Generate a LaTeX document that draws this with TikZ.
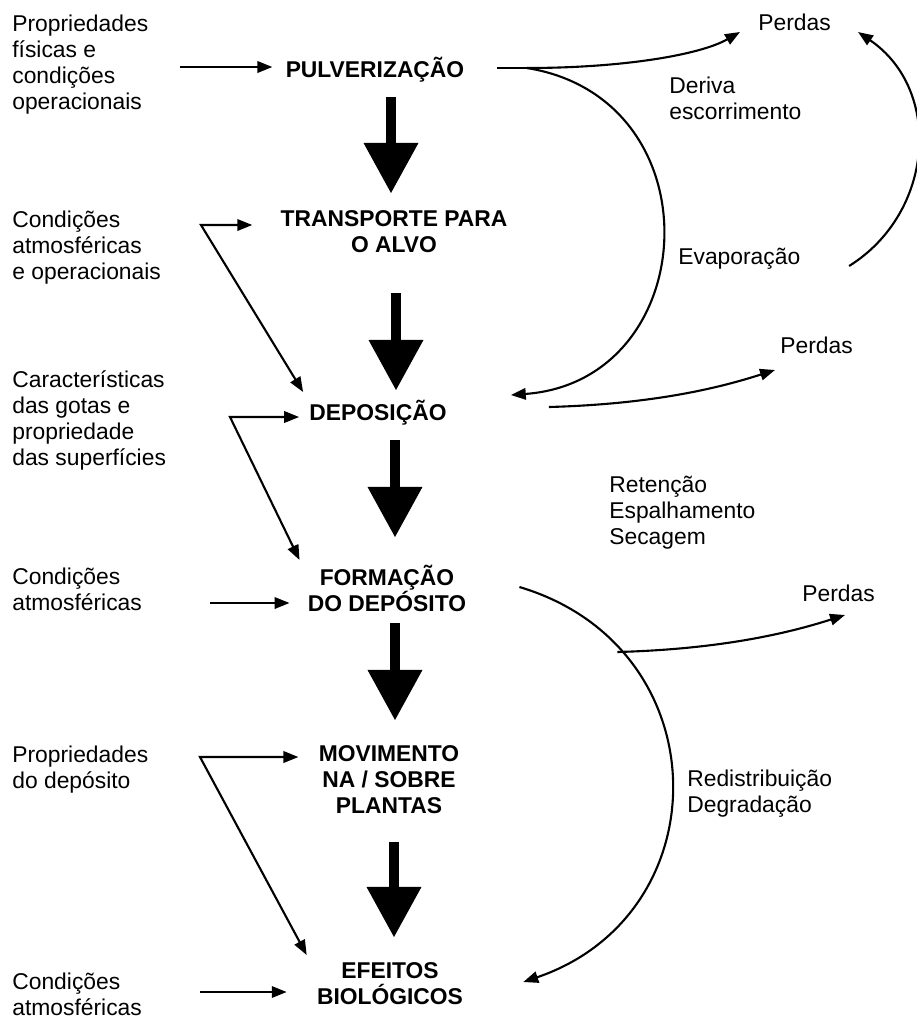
\documentclass[tikz,border=0pt]{standalone}
\usepackage{fontspec}
\setmainfont{Liberation Sans}
\usetikzlibrary{arrows.meta, calc}

\begin{document}
\begin{tikzpicture}[
  x=0.02cm, y=-0.02cm,
  every node/.style={inner sep=0pt, font=\fontsize{13}{14.8}\selectfont},
  stage/.style={align=center, font=\fontsize{13}{14.8}\selectfont\bfseries},
  cause/.style={anchor=west, align=left},
  note/.style={anchor=west, align=left},
  feed/.style={line width=1.2pt, -{Triangle[length=8.5pt, width=6.5pt]}},
  feedtwo/.style={line width=1.2pt, {Triangle[length=8.5pt, width=6.5pt]}-{Triangle[length=8.5pt, width=6.5pt]}},
  flow/.style={line width=5.7pt, -{Triangle[length=28.5pt, width=31.3pt, line width=0pt]}}
]
\useasboundingbox (0,0) rectangle (917,1019);

% stages
\node[stage] (pulv) at (375,70) {PULVERIZAÇÃO};
\node[stage] (trans) at (394,231.5) {TRANSPORTE PARA\\O ALVO};
\node[stage] (depo) at (378,413) {DEPOSIÇÃO};
\node[stage] (form) at (387,588.5) {FORMAÇÃO\\DO DEPÓSITO};
\node[stage] (movi) at (389,780) {MOVIMENTO\\NA / SOBRE\\PLANTAS};
\node[stage] (efei) at (390,983.5) {EFEITOS\\BIOLÓGICOS};

% factors on the left
\node[cause] (prop) at (12,64.5) {Propriedades\\físicas e\\condições\\operacionais};
\node[cause] (atm) at (12,247.5) {Condições\\atmosféricas\\e operacionais};
\node[cause] (gotas) at (12,420.5) {Características\\das gotas e\\propriedade\\das superfícies};
\node[cause] (atmb) at (12,589.5) {Condições\\atmosféricas};
\node[cause] (propdep) at (12,769.5) {Propriedades\\do depósito};
\node[cause] (atmc) at (12,994) {Condições\\atmosféricas};

% losses and processes on the right
\node[note] (perdasa) at (758,22) {Perdas};
\node[note] (deriva) at (669,98.5) {Deriva\\escorrimento};
\node[note] (evap) at (678,259) {Evaporação};
\node[note] (perdasb) at (780,345) {Perdas};
\node[note] (reten) at (609,513) {Retenção\\Espalhamento\\Secagem};
\node[note] (perdasc) at (802,593) {Perdas};
\node[note] (redist) at (687,793.5) {Redistribuição\\Degradação};

% bend points
\coordinate (sa) at (180,67);
\coordinate (ka) at (201,225);
\coordinate (kb) at (230,417);
\coordinate (sb) at (210,603);
\coordinate (kc) at (200,757);
\coordinate (sc) at (200,992);
\coordinate (ja) at (527,68);
\coordinate (ax) at (394,0);

% main flow
\draw[flow] ($(pulv.center -| ax)+(-3,27)$) -- ($(trans.center -| ax)+(-3,-38.5)$);
\draw[flow] ($(trans.center -| ax)+(2,61.5)$) -- ($(depo.center -| ax)+(2,-23)$);
\draw[flow] ($(depo.center -| ax)+(1,27)$) -- ($(form.center -| ax)+(1,-51.5)$);
\draw[flow] ($(form.center -| ax)+(1,34.5)$) -- ($(movi.center -| ax)+(1,-60)$);
\draw[flow] ($(movi.center -| ax)+(0,62)$) -- ($(efei.center -| ax)+(0,-46.5)$);

% factors
\draw[feed] (sa) -- ($(sa -| pulv.west)+(-13,0)$);
\draw[feedtwo] ($(ka -| trans.west)+(-28,0)$) -- (ka) -- ($(depo.west)+(-6,-21)$);
\draw[feedtwo] ($(kb -| depo.west)+(-10,0)$) -- (kb) -- ($(form.west)+(-8,-28.5)$);
\draw[feed] (sb) -- ($(sb -| form.west)+(-18,0)$);
\draw[feedtwo] ($(kc -| movi.west)+(-20,0)$) -- (kc) -- ($(efei.west)+(-10,-28.5)$);
\draw[feed] (sc) -- ($(sc -| efei.west)+(-30,0)$);

% losses
\draw[line width=1.2pt] ($(pulv.east)+(32,-2)$) -- (ja);
\draw[feed] (ja) .. controls +(95,0) and +(-40,23) .. ($(perdasa.west)+(-18,10)$);
\draw[feed] (ja) .. controls +(191,31) and +(192,-14) .. ($(depo.east)+(64,-18)$);
\draw[feed] ($(evap.east)+(48.5,7)$) .. controls +(85,-53) and +(85,58) .. ($(perdasa.east)+(27,10)$);
\draw[feed] ($(depo.east)+(102,-6)$) .. controls +(110,-3) and +(-50,16) .. ($(perdasb.west)+(-5,25)$);
\draw[feed] ($(form.east)+(53,-1.5)$) .. controls +(201,60) and +(199,-68) .. ($(efei.east)+(60,-1.5)$);
\draw[feed] ($(form.east)+(151,63.5)$) .. controls +(110,-3) and +(-50,16) .. ($(perdasc.west)+(43,22)$);
\end{tikzpicture}
\end{document}
